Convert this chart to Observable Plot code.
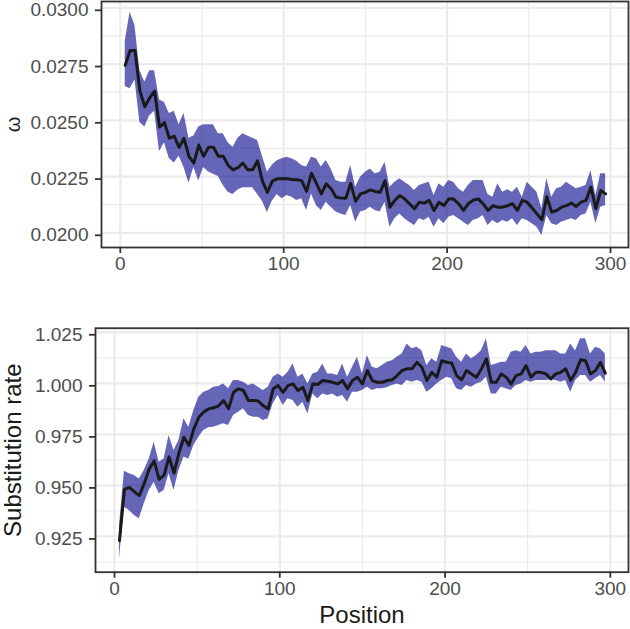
<!DOCTYPE html>
<html><head><meta charset="utf-8">
<script src="https://cdn.jsdelivr.net/npm/d3@7"></script>
<script src="https://cdn.jsdelivr.net/npm/@observablehq/plot@0.6"></script>
<style>body{margin:0;background:#fff;} #chart svg{display:block;}</style>
</head><body><div id="chart"></div>
<script>
const positions = [3,6,9,12,15,18,21,24,27,30,33,36,39,42,45,48,51,54,57,60,63,66,69,72,75,78,81,84,87,90,93,96,
  99,102,105,108,111,114,117,120,123,126,129,132,135,138,141,144,147,150,153,156,159,162,165,168,171,174,177,180,183,186,189,192,195,198,201,
  204,207,210,213,216,219,222,225,228,231,234,237,240,243,246,249,252,255,258,261,264,267,270,273,276,279,282,285,288,291,294,297];

const omegaMean = [0.02744,0.02810,0.02810,0.02630,0.02560,0.02600,0.02630,0.02470,0.02490,0.02420,0.02430,0.02380,0.02420,0.02340,0.02310,0.02390,0.02340,0.02380,0.02380,0.02340,0.02340,0.02300,0.02280,0.02290,0.02310,0.02280,0.02280,0.02320,0.02230,0.02180,0.02230,0.02240,
  0.02240,0.02240,0.02237,0.02236,0.02232,0.02184,0.02265,0.02220,0.02173,0.02218,0.02196,0.02158,0.02155,0.02154,0.02220,0.02140,0.02173,0.02180,0.02191,0.02184,0.02180,0.02232,0.02114,0.02144,0.02166,0.02151,0.02129,0.02107,0.02136,0.02132,0.02144,0.02099,0.02136,0.02121,0.02151,
  0.02150,0.02130,0.02100,0.02130,0.02145,0.02151,0.02130,0.02100,0.02120,0.02114,0.02114,0.02120,0.02130,0.02100,0.02144,0.02136,0.02110,0.02084,0.02058,0.02160,0.02092,0.02099,0.02114,0.02121,0.02132,0.02117,0.02136,0.02144,0.02203,0.02107,0.02188,0.02173];
const omegaUpper = [0.02850,0.02980,0.02920,0.02720,0.02670,0.02720,0.02720,0.02590,0.02580,0.02530,0.02540,0.02480,0.02530,0.02420,0.02430,0.02470,0.02480,0.02480,0.02480,0.02440,0.02440,0.02400,0.02380,0.02420,0.02440,0.02430,0.02420,0.02410,0.02340,0.02270,0.02300,0.02320,
  0.02329,0.02336,0.02329,0.02318,0.02299,0.02292,0.02336,0.02329,0.02292,0.02321,0.02284,0.02232,0.02225,0.02225,0.02299,0.02203,0.02247,0.02269,0.02284,0.02262,0.02269,0.02314,0.02203,0.02225,0.02240,0.02225,0.02210,0.02188,0.02210,0.02218,0.02225,0.02166,0.02218,0.02203,0.02232,
  0.02225,0.02196,0.02180,0.02210,0.02232,0.02232,0.02232,0.02170,0.02158,0.02218,0.02180,0.02191,0.02180,0.02203,0.02158,0.02225,0.02203,0.02180,0.02107,0.02240,0.02158,0.02196,0.02203,0.02225,0.02210,0.02196,0.02203,0.02210,0.02277,0.02166,0.02262,0.02262];
const omegaLower = [0.02650,0.02640,0.02680,0.02490,0.02470,0.02520,0.02540,0.02360,0.02400,0.02330,0.02310,0.02340,0.02290,0.02220,0.02290,0.02230,0.02290,0.02270,0.02260,0.02250,0.02210,0.02180,0.02170,0.02190,0.02200,0.02200,0.02200,0.02170,0.02140,0.02090,0.02140,0.02170,
  0.02151,0.02166,0.02158,0.02144,0.02151,0.02099,0.02173,0.02121,0.02099,0.02136,0.02114,0.02092,0.02084,0.02077,0.02121,0.02047,0.02092,0.02099,0.02114,0.02099,0.02092,0.02136,0.02025,0.02062,0.02084,0.02062,0.02047,0.02032,0.02062,0.02055,0.02069,0.02025,0.02062,0.02040,0.02069,
  0.02077,0.02062,0.02047,0.02032,0.02055,0.02062,0.02077,0.02032,0.02055,0.02040,0.02055,0.02047,0.02062,0.02032,0.02062,0.02055,0.02040,0.02025,0.01988,0.02077,0.02040,0.02032,0.02047,0.02055,0.02062,0.02055,0.02077,0.02084,0.02136,0.02040,0.02114,0.02121];

const rateMean = [0.9230,0.9480,0.9490,0.9470,0.9450,0.9510,0.9580,0.9620,0.9530,0.9550,0.9640,0.9560,0.9660,0.9736,0.9695,0.9777,0.9834,0.9860,0.9875,0.9880,0.9890,0.9916,0.9875,0.9956,0.9973,0.9965,0.9916,0.9916,0.9913,0.9890,0.9875,0.9973,
  0.9989,0.9956,0.9989,0.9997,0.9965,0.9981,0.9916,0.9997,0.9994,1.0014,1.0010,1.0005,0.9997,1.0014,0.9973,1.0014,1.0030,0.9997,1.0063,1.0014,1.0005,1.0005,1.0014,1.0017,1.0038,1.0063,1.0071,1.0071,1.0103,1.0079,1.0014,1.0054,1.0030,
  1.0111,1.0103,1.0100,1.0038,1.0017,1.0063,1.0046,1.0030,1.0071,1.0120,1.0005,1.0005,1.0046,1.0030,0.9997,1.0038,1.0046,1.0087,1.0030,1.0054,1.0054,1.0046,1.0022,1.0046,1.0054,1.0071,1.0014,1.0054,1.0115,1.0111,1.0046,1.0063,1.0103,1.0050];
const rateUpper = [0.9300,0.9570,0.9557,0.9549,0.9532,0.9573,0.9630,0.9712,0.9614,0.9630,0.9744,0.9671,0.9720,0.9826,0.9785,0.9867,0.9932,0.9956,0.9965,0.9981,0.9984,0.9997,0.9973,1.0014,1.0014,1.0005,0.9989,0.9997,0.9981,0.9965,0.9981,1.0030,
  1.0046,1.0030,1.0054,1.0095,1.0030,1.0046,0.9997,1.0046,1.0054,1.0095,1.0046,1.0046,1.0038,1.0095,1.0030,1.0079,1.0128,1.0046,1.0136,1.0079,1.0071,1.0087,1.0103,1.0111,1.0128,1.0144,1.0193,1.0169,1.0177,1.0160,1.0087,1.0120,1.0103,
  1.0185,1.0177,1.0169,1.0128,1.0103,1.0144,1.0120,1.0136,1.0160,1.0218,1.0087,1.0095,1.0103,1.0103,1.0152,1.0160,1.0152,1.0185,1.0144,1.0152,1.0152,1.0160,1.0160,1.0160,1.0144,1.0144,1.0193,1.0160,1.0218,1.0218,1.0144,1.0177,1.0169,1.0144];
const rateLower = [0.9140,0.9393,0.9377,0.9353,0.9337,0.9410,0.9475,0.9516,0.9459,0.9475,0.9557,0.9475,0.9573,0.9638,0.9630,0.9695,0.9736,0.9769,0.9782,0.9785,0.9793,0.9802,0.9793,0.9842,0.9858,0.9875,0.9842,0.9834,0.9834,0.9818,0.9826,0.9900,
  0.9940,0.9891,0.9924,0.9916,0.9883,0.9907,0.9850,0.9948,0.9924,0.9948,0.9940,0.9948,0.9932,0.9940,0.9907,0.9956,0.9956,0.9965,0.9981,0.9965,0.9973,0.9973,0.9978,0.9989,0.9997,0.9989,1.0014,1.0005,1.0014,1.0005,0.9956,0.9973,0.9997,
  1.0014,1.0030,1.0022,0.9973,0.9965,0.9989,0.9981,0.9997,1.0005,1.0030,0.9948,0.9948,0.9981,0.9973,0.9965,0.9989,0.9997,1.0014,1.0005,1.0014,1.0014,1.0014,1.0017,1.0014,1.0005,1.0014,0.9956,1.0014,1.0038,1.0038,1.0005,1.0022,1.0038,1.0005];

const xMajor = [0, 100, 200, 300];
const xMinor = [50, 150, 250];
const omegaTicks = [0.0200, 0.0225, 0.0250, 0.0275, 0.0300];
const omegaMinor = [0.02125, 0.02375, 0.02625, 0.02875];
const rateTicks = [0.925, 0.950, 0.975, 1.000, 1.025];
const rateMinor = [0.9125, 0.9375, 0.9625, 0.9875, 1.0125];

const FONT = "'Liberation Sans', Arial, Helvetica, sans-serif";

function panel(o) {
  const data = positions.map((p, i) => ({p, m: o.mean[i], lo: o.lower[i], hi: o.upper[i]}));
  const marks = [
    Plot.ruleX(xMinor, {stroke: "#EBEBEB", strokeWidth: 1.2}),
    Plot.ruleY(o.yMinor, {stroke: "#EBEBEB", strokeWidth: 1.2}),
    Plot.ruleX(xMajor, {stroke: "#EBEBEB", strokeWidth: 2.2}),
    Plot.ruleY(o.yMajor, {stroke: "#EBEBEB", strokeWidth: 2.2}),
    Plot.areaY(data, {x: "p", y1: "lo", y2: "hi", fill: "#00008B", fillOpacity: 0.6}),
    Plot.lineY(data, {x: "p", y: "m", stroke: "#1A1A1A", strokeWidth: 3}),
    Plot.frame({stroke: "#333333", strokeWidth: 1.8}),
    Plot.axisX({ticks: xMajor, tickSize: 6, tickPadding: 3, fontSize: 19, stroke: "#333333", strokeWidth: 1.8, fill: "#4D4D4D", label: null}),
    Plot.axisY({ticks: o.yMajor, tickFormat: o.fmt, tickSize: 6, tickPadding: 7, fontSize: 19, dy: 2.5, stroke: "#333333", strokeWidth: 1.8, fill: "#4D4D4D", label: null}),
    Plot.text([o.yTitle], {frameAnchor: "left", text: d => d, textAnchor: "middle", lineAnchor: "middle", rotate: -90, dx: -o.yTitleOffset, fontSize: o.yTitleSize, fill: "#1A1A1A"})
  ];
  if (o.xTitle) marks.push(Plot.text([o.xTitle], {frameAnchor: "bottom", text: d => d, textAnchor: "middle", lineAnchor: "middle", dy: 43, fontSize: 24, fill: "#1A1A1A"}));
  return Plot.plot({
    width: 630, height: o.height,
    marginTop: o.mt, marginBottom: o.mb, marginLeft: o.ml, marginRight: 2,
    style: {fontFamily: FONT, background: "white", overflow: "visible"},
    x: {domain: [-11.5, 311]},
    y: {domain: o.domain},
    marks
  });
}

const chart = document.getElementById("chart");
chart.append(panel({
  mean: omegaMean, lower: omegaLower, upper: omegaUpper,
  domain: [0.019347, 0.03028], yMajor: omegaTicks, yMinor: omegaMinor, fmt: d3.format(".4f"),
  height: 290, mt: 1, mb: 43, ml: 101, yTitle: "ω", yTitleOffset: 88, yTitleSize: 20
}));
chart.append(panel({
  mean: rateMean, lower: rateLower, upper: rateUpper,
  domain: [0.9075, 1.027], yMajor: rateTicks, yMinor: rateMinor, fmt: d3.format(".3f"),
  height: 339, mt: 37.7, mb: 57.3, ml: 95, yTitle: "Substitution rate", yTitleOffset: 82, yTitleSize: 24,
  xTitle: "Position"
}));
</script>
</body></html>
